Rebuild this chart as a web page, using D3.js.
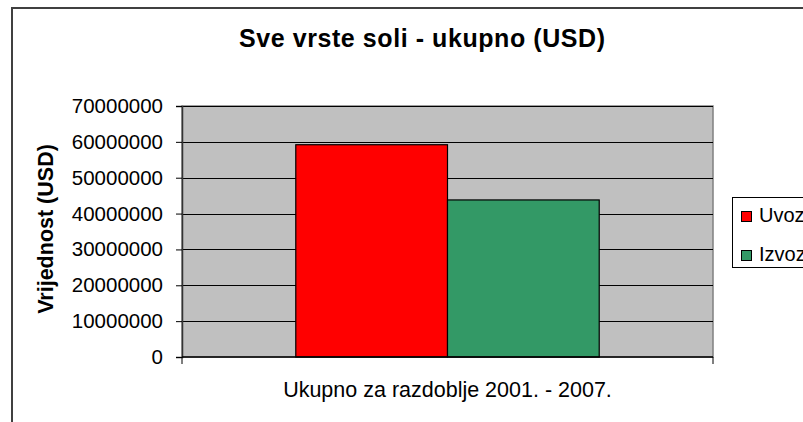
<!DOCTYPE html>
<html>
<head>
<meta charset="utf-8">
<script src="https://cdn.jsdelivr.net/npm/d3@7"></script>
<style>
  body { margin: 0; background: #fff; }
  svg { display: block; font-family: "Liberation Sans", Arial, sans-serif; }
</style>
</head>
<body>
<svg id="chart"></svg>
<script>
const categories = ["Ukupno za razdoblje 2001. - 2007."];
const seriesNames = ["Uvoz", "Izvoz"];
const seriesValues = [59200000, 43800000];
const yTicks = [0, 10000000, 20000000, 30000000, 40000000, 50000000, 60000000, 70000000];
const colors = ["#FF0000", "#339966"];

function main() {
  const width = 803;
  const height = 422;
  const plot = {left: 182, top: 106, right: 713, bottom: 357};

  const svg = d3.select("#chart")
    .attr("width", width)
    .attr("height", height);

  // outer chart border
  svg.append("rect")
    .attr("x", 12).attr("y", 8)
    .attr("width", width).attr("height", height)
    .attr("fill", "#fff")
    .attr("stroke", "#404040")
    .attr("stroke-width", 2);

  const x = d3.scaleBand()
    .domain(categories)
    .range([plot.left, plot.right])
    .paddingInner(0)
    .paddingOuter(0.375);

  const xs = d3.scaleBand()
    .domain(seriesNames)
    .range([0, x.bandwidth()]);

  const y = d3.scaleLinear()
    .domain([0, 70000000])
    .range([plot.bottom, plot.top]);

  // plot area
  svg.append("rect")
    .attr("x", plot.left).attr("y", plot.top)
    .attr("width", plot.right - plot.left).attr("height", plot.bottom - plot.top)
    .attr("fill", "#C0C0C0")
    .attr("stroke", "#808080")
    .attr("stroke-width", 1.5);

  // gridlines
  svg.append("g")
    .selectAll("line")
    .data(yTicks.filter(d => d > 0))
    .join("line")
    .attr("x1", plot.left).attr("x2", plot.right)
    .attr("y1", d => Math.round(y(d)) + 0.5)
    .attr("y2", d => Math.round(y(d)) + 0.5)
    .attr("stroke", "#000")
    .attr("stroke-width", 1);

  // bars
  svg.append("g")
    .selectAll("rect")
    .data(seriesValues.map((v, i) => ({name: seriesNames[i], value: v, cat: categories[0], i})))
    .join("rect")
    .attr("x", d => x(d.cat) + xs(d.name))
    .attr("y", d => y(d.value))
    .attr("width", xs.bandwidth())
    .attr("height", d => y(0) - y(d.value))
    .attr("fill", d => colors[d.i])
    .attr("stroke", "#000")
    .attr("stroke-width", 1.2);

  // y axis
  const yAxis = svg.append("g")
    .attr("transform", `translate(${plot.left},0)`)
    .call(d3.axisLeft(y).tickValues(yTicks).tickSize(6).tickPadding(13).tickFormat(d3.format("d")));
  yAxis.select(".domain").attr("stroke", "#333").attr("stroke-width", 1.5);
  yAxis.selectAll(".tick line").attr("stroke", "#000");
  yAxis.selectAll("text").attr("font-size", 20.5).attr("fill", "#000").attr("font-family", "Liberation Sans, Arial, sans-serif");

  // x axis
  const xAxis = svg.append("g")
    .attr("transform", `translate(0,${plot.bottom})`)
    .call(d3.axisBottom(x).tickSize(0).tickPadding(0).tickFormat(""));
  xAxis.select(".domain").remove();
  xAxis.append("line")
    .attr("x1", plot.left).attr("x2", plot.right)
    .attr("stroke", "#000").attr("stroke-width", 1.5);
  xAxis.selectAll(".edge")
    .data([plot.left, plot.right])
    .join("line")
    .attr("class", "edge")
    .attr("x1", d => d).attr("x2", d => d)
    .attr("y1", 0).attr("y2", 7)
    .attr("stroke", "#000");

  svg.append("text")
    .attr("x", x(categories[0]) + x.bandwidth() / 2)
    .attr("y", 397)
    .attr("text-anchor", "middle")
    .attr("font-size", 21.5)
    .text(categories[0]);

  // title
  svg.append("text")
    .attr("x", 422)
    .attr("y", 47)
    .attr("text-anchor", "middle")
    .attr("font-size", 25)
    .attr("font-weight", "bold")
    .attr("textLength", 366)
    .attr("lengthAdjust", "spacing")
    .text("Sve vrste soli - ukupno (USD)");

  // y title
  svg.append("text")
    .attr("transform", `translate(53,229) rotate(-90)`)
    .attr("text-anchor", "middle")
    .attr("font-size", 21.5)
    .attr("font-weight", "bold")
    .text("Vrijednost (USD)");

  // legend
  const legend = svg.append("g");
  legend.append("rect")
    .attr("x", 732.5).attr("y", 197.5)
    .attr("width", 100).attr("height", 70)
    .attr("fill", "#fff")
    .attr("stroke", "#000");
  const item = legend.selectAll("g")
    .data(seriesNames)
    .join("g")
    .attr("transform", (d, i) => `translate(741,${211 + i * 39})`);
  item.append("rect")
    .attr("x", 0.5).attr("y", 0.5)
    .attr("width", 10).attr("height", 10)
    .attr("fill", (d, i) => colors[i])
    .attr("stroke", "#000");
  item.append("text")
    .attr("x", 18)
    .attr("y", 11)
    .attr("font-size", 20)
    .text(d => d);
}

main();
</script>
</body>
</html>
